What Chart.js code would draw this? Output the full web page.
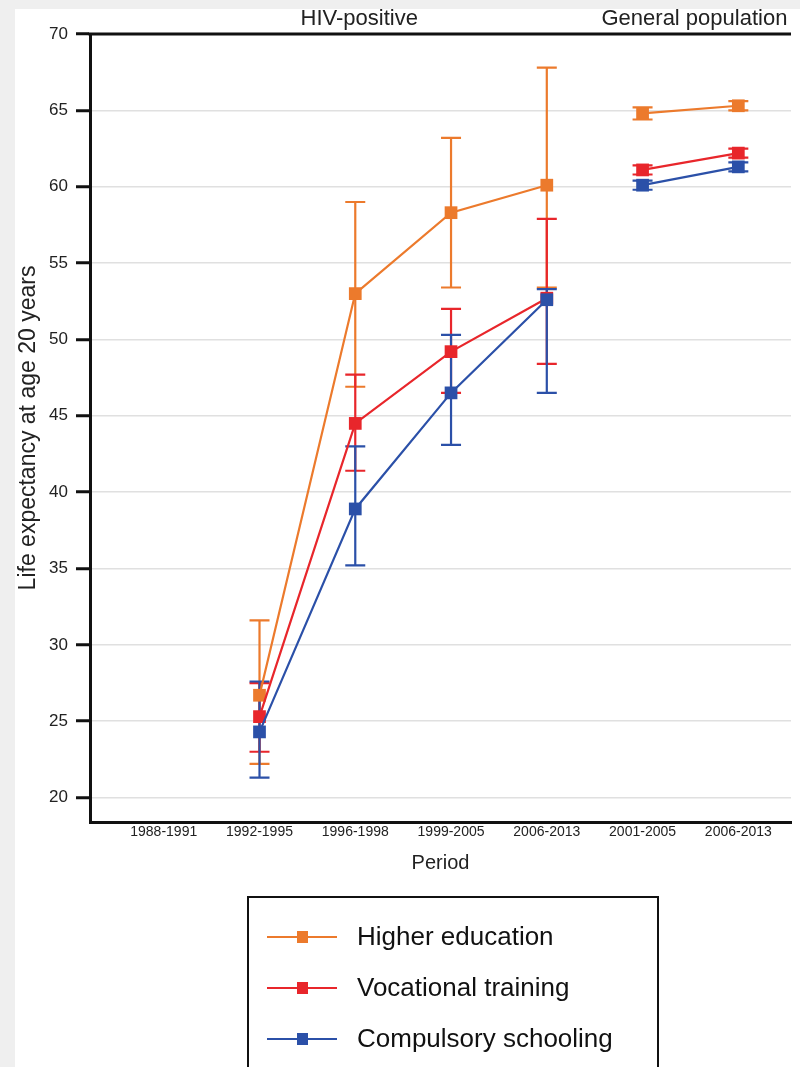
<!DOCTYPE html>
<html>
<head>
<meta charset="utf-8">
<script src="https://cdn.jsdelivr.net/npm/chart.js@4.4.1/dist/chart.umd.min.js"></script>
<style>
    html, body { margin: 0; padding: 0; background: #efefef; }
    #frame { position: absolute; left: 15px; top: 9px; width: 785px; height: 1058px; background: #fff; }
</style>
</head>
<body>
<div id="frame"><canvas id="lifeChart"></canvas></div>
<script>
// Periods on the x axis: HIV-positive cohorts, then the general population
const periods = ['1988-1991', '1992-1995', '1996-1998', '1999-2005', '2006-2013', '2001-2005', '2006-2013'];
const periodGroups = ['HIV-positive', 'HIV-positive', 'HIV-positive', 'HIV-positive', 'HIV-positive',
    'General population', 'General population'];
const yTicks = [20, 25, 30, 35, 40, 45, 50, 55, 60, 65, 70];

// Life expectancy at age 20 (point estimate, lower and upper CI)
const higherEdu = [null, 26.7, 53.0, 58.3, 60.1, 64.8, 65.3];
const higherEduLow = [null, 22.2, 46.9, 53.4, 53.4, 64.4, 65.0];
const higherEduHigh = [null, 31.6, 59.0, 63.2, 67.8, 65.2, 65.6];

const vocational = [null, 25.3, 44.5, 49.2, 52.7, 61.1, 62.2];
const vocationalLow = [null, 23.0, 41.4, 46.5, 48.4, 60.8, 61.9];
const vocationalHigh = [null, 27.5, 47.7, 52.0, 57.9, 61.4, 62.5];

const compulsory = [null, 24.3, 38.9, 46.5, 52.6, 60.1, 61.3];
const compulsoryLow = [null, 21.3, 35.2, 43.1, 46.5, 59.8, 61.0];
const compulsoryHigh = [null, 27.6, 43.0, 50.3, 53.3, 60.4, 61.6];

const FONT = '"Liberation Sans", Arial, sans-serif';
const NARROW = '"Liberation Sans Narrow", "Arial Narrow", "Liberation Sans", Arial, sans-serif';
Chart.defaults.font.family = FONT;
Chart.defaults.color = '#222';

function makeSeries(label, color, values, low, high, order) {
    return {
        label: label,
        data: values.map((v, i) => ({ x: i, y: v })),
        errLow: low,
        errHigh: high,
        borderColor: color,
        backgroundColor: color,
        borderWidth: 2.2,
        pointStyle: 'rect',
        pointRadius: 9,
        pointBorderWidth: 0,
        pointBackgroundColor: color,
        spanGaps: false,
        order: order,
        segment: {
            // no line between the HIV-positive and general population panels
            borderColor: ctx => periodGroups[ctx.p0DataIndex] !== periodGroups[ctx.p1DataIndex] ? 'rgba(0,0,0,0)' : undefined
        }
    };
}

// vertical error bars with caps
const errorBars = {
    id: 'errorBars',
    beforeDatasetsDraw(chart) {
        const ctx = chart.ctx;
        const xs = chart.scales.x, ys = chart.scales.y;
        ctx.save();
        chart.data.datasets.forEach(ds => {
            ctx.strokeStyle = ds.borderColor;
            ctx.lineWidth = 2.2;
            ds.data.forEach((p, i) => {
                if (p.y === null) return;
                const x = xs.getPixelForValue(p.x);
                const yLo = ys.getPixelForValue(ds.errLow[i]);
                const yHi = ys.getPixelForValue(ds.errHigh[i]);
                ctx.beginPath();
                ctx.moveTo(x, yLo); ctx.lineTo(x, yHi);
                ctx.moveTo(x - 10, yLo); ctx.lineTo(x + 10, yLo);
                ctx.moveTo(x - 10, yHi); ctx.lineTo(x + 10, yHi);
                ctx.stroke();
            });
        });
        ctx.restore();
    }
};

// top frame line and panel headers
const panelTitles = {
    id: 'panelTitles',
    afterDraw(chart) {
        const ctx = chart.ctx;
        const area = chart.chartArea;
        const xs = chart.scales.x;
        ctx.save();
        ctx.strokeStyle = '#111';
        ctx.lineWidth = 3;
        ctx.beginPath();
        ctx.moveTo(area.left - 1.5, area.top);
        ctx.lineTo(area.right, area.top);
        ctx.stroke();

        ctx.fillStyle = '#222';
        ctx.font = '22px ' + FONT;
        ctx.textAlign = 'center';
        ctx.textBaseline = 'middle';
        const seen = [];
        periodGroups.forEach(g => { if (!seen.includes(g)) seen.push(g); });
        seen.forEach(g => {
            const first = periodGroups.indexOf(g);
            const last = periodGroups.lastIndexOf(g);
            const cx = xs.getPixelForValue((first + last) / 2);
            ctx.fillText(g, cx + 4, 10);
        });
        ctx.restore();
    }
};

// boxed legend under the chart
const legendBox = {
    id: 'legendBox',
    afterDraw(chart) {
        const ctx = chart.ctx;
        const left = 233, top = 888, width = 410, rowH = 51;
        ctx.save();
        ctx.strokeStyle = '#111';
        ctx.lineWidth = 2;
        ctx.strokeRect(left, top, width, chart.height - top + 20);
        ctx.font = '26px ' + FONT;
        ctx.textBaseline = 'middle';
        ctx.textAlign = 'left';
        chart.data.datasets.forEach((ds, i) => {
            const y = top + 40 + i * rowH;
            ctx.strokeStyle = ds.borderColor;
            ctx.lineWidth = 2.2;
            ctx.beginPath();
            ctx.moveTo(left + 19, y);
            ctx.lineTo(left + 89, y);
            ctx.stroke();
            ctx.fillStyle = ds.borderColor;
            ctx.fillRect(left + 49, y - 6, 11, 12);
            ctx.fillStyle = '#111';
            ctx.fillText(ds.label, left + 109, y + 1);
        });
        ctx.restore();
    }
};

new Chart(document.getElementById('lifeChart'), {
    type: 'line',
    data: {
        datasets: [
            makeSeries('Higher education', '#ec7a2c', higherEdu, higherEduLow, higherEduHigh, 2),
            makeSeries('Vocational training', '#e8262b', vocational, vocationalLow, vocationalHigh, 1),
            makeSeries('Compulsory schooling', '#2b50a8', compulsory, compulsoryLow, compulsoryHigh, 0)
        ]
    },
    options: {
        responsive: true,
        maintainAspectRatio: false,
        animation: false,
        layout: { padding: { top: 25, right: 0, bottom: 192, left: 0 } },
        plugins: {
            legend: { display: false },
            tooltip: { enabled: false }
        },
        scales: {
            x: {
                type: 'linear',
                min: -0.77,
                max: 6.55,
                afterBuildTicks: s => { s.ticks = periods.map((_, i) => ({ value: i })); },
                afterFit: s => { s.height = 53; },
                grid: { drawOnChartArea: false, drawTicks: false },
                border: { color: '#111', width: 3 },
                ticks: {
                    autoSkip: false,
                    maxRotation: 0,
                    padding: 2,
                    color: '#222',
                    font: { family: NARROW, size: 14 },
                    callback: v => periods[v]
                },
                title: {
                    display: true,
                    text: 'Period',
                    color: '#222',
                    font: { family: NARROW, size: 20 },
                    padding: { top: 0, bottom: 0 }
                }
            },
            y: {
                min: 18.4,
                max: 70,
                afterBuildTicks: s => { s.ticks = yTicks.map(v => ({ value: v })); },
                afterFit: s => { s.width = 75; },
                grid: { color: '#e0e0e0', lineWidth: 1.5, tickColor: '#111', tickWidth: 3, tickLength: 14 },
                border: { color: '#111', width: 3 },
                ticks: { color: '#222', font: { size: 17 }, padding: 8 },
                title: {
                    display: true,
                    text: 'Life expectancy at age 20 years',
                    color: '#222',
                    font: { size: 23 },
                    padding: { top: 0, bottom: 0 }
                }
            }
        }
    },
    plugins: [errorBars, panelTitles, legendBox]
});
</script>
</body>
</html>
